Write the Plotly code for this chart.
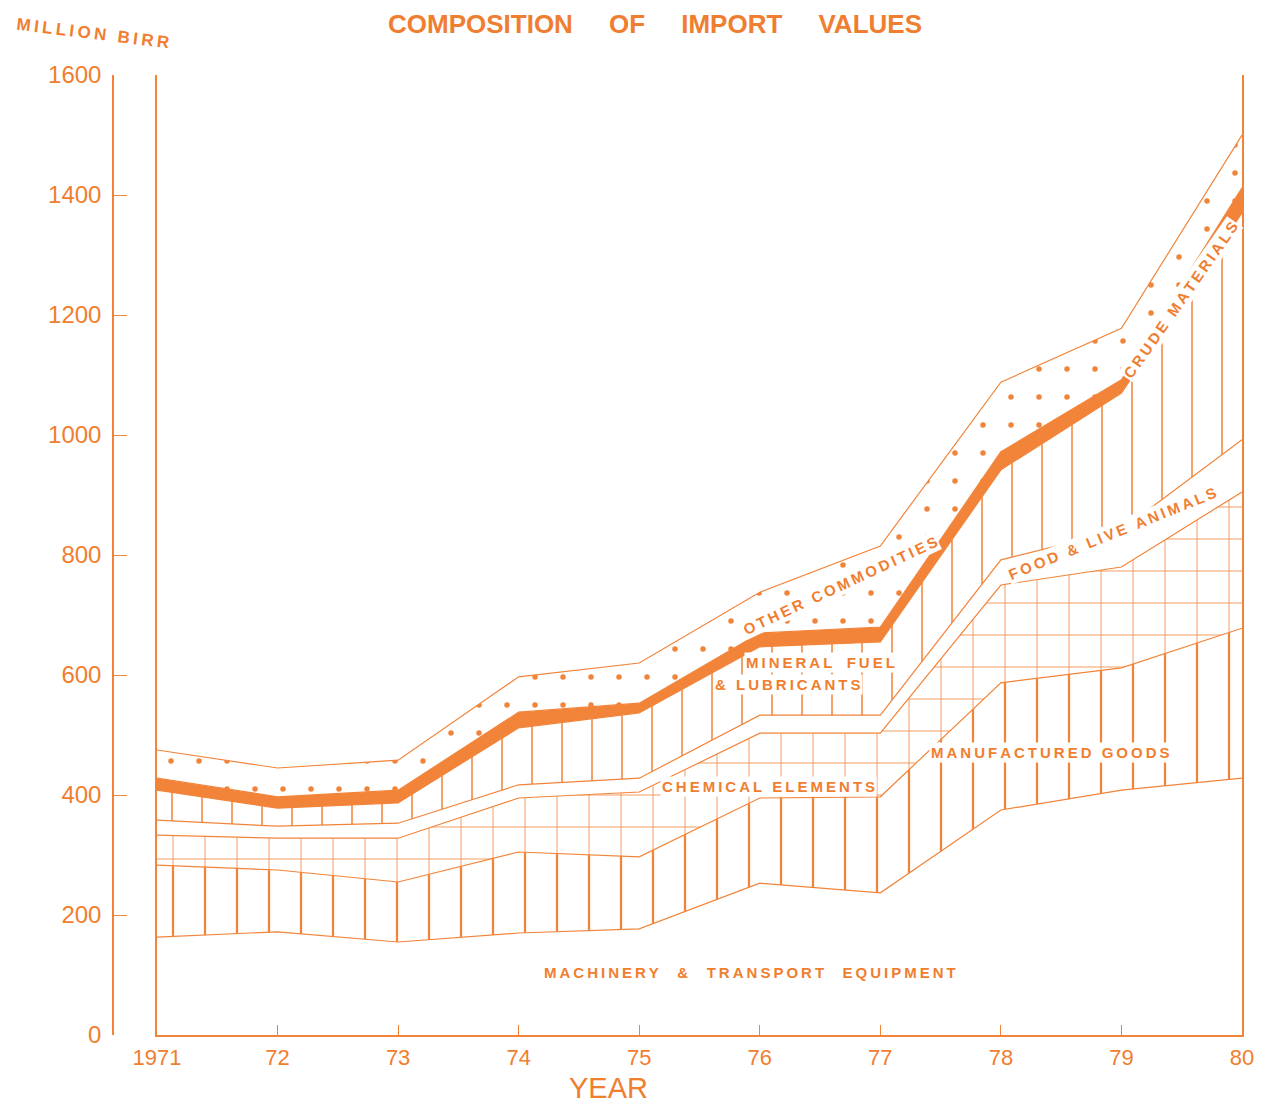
import plotly.graph_objects as go

# ---------------- data (million Birr) ----------------
years = [1971, 1972, 1973, 1974, 1975, 1976, 1977, 1978, 1979, 1980]
machinery = [163, 172, 155, 170, 177, 253, 237, 375, 408, 428]
manufactured = [120, 103, 100, 135, 120, 142, 160, 212, 204, 250]
chemical = [50, 53, 73, 90, 108, 108, 106, 163, 168, 227]
food = [25, 20, 25, 22, 23, 30, 30, 42, 62, 87]
mineral = [50, 30, 34, 95, 109, 114, 122, 150, 228, 378]
crude = [20, 19, 21, 26, 16, 23, 25, 30, 22, 42]
other = [47, 48, 50, 59, 67, 68, 135, 116, 86, 88]

x_tick_vals = years
x_tick_text = ["1971", "72", "73", "74", "75", "76", "77", "78", "79", "80"]
y_tick_vals = [0, 200, 400, 600, 800, 1000, 1200, 1400, 1600]
y_tick_text = ["0", "200", "400", "600", "800", "1000", "1200", "1400", "1600"]

# ---------------- styling ----------------
ORANGE = "#F2843A"
TEXT = "#F07E30"
FONT = "Liberation Sans, Arial, sans-serif"

OFF = 8                      # page body margin
W, H = 1273 - 2 * OFF, 1114 - 2 * OFF


def xp(px):
    return (px - OFF) / W


def yp(py):
    return 1 - (py - OFF) / H


def spaced(text, word_gap=2):
    """Letter-spaced text: thin spaces between letters, wider gaps between words."""
    words = text.split(" ")
    out = ["\u2009".join(w) for w in words]
    return ("\u2009" + "&nbsp;" * word_gap + "\u2009").join(out)


fig = go.Figure()

layers = [
    ("Machinery & transport equipment", machinery, dict(fillcolor="white")),
    ("Manufactured goods", manufactured,
     dict(fillpattern=dict(shape="|", size=32, solidity=0.07, fgcolor=ORANGE, bgcolor="white",
                           fgopacity=1))),
    ("Chemical elements", chemical,
     dict(fillpattern=dict(shape="+", size=32, solidity=0.05, fgcolor=ORANGE, bgcolor="white",
                           fgopacity=1))),
    ("Food & live animals", food, dict(fillcolor="white")),
    ("Mineral fuel & lubricants", mineral,
     dict(fillpattern=dict(shape="|", size=30, solidity=0.06, fgcolor=ORANGE, bgcolor="white",
                           fgopacity=0.85))),
    ("Crude materials", crude, dict(fillcolor=ORANGE)),
    ("Other commodities", other,
     dict(fillpattern=dict(shape=".", size=28, solidity=0.03, fgcolor=ORANGE, bgcolor="white",
                           fgopacity=1))),
]

for name, vals, extra in layers:
    fig.add_trace(go.Scatter(
        x=years, y=vals, name=name, mode="lines", stackgroup="imports",
        line=dict(color=ORANGE, width=1.2), showlegend=False,
        hovertemplate="%{x}: %{y}<extra>" + name + "</extra>",
        **extra,
    ))

# frame lines (left/right verticals) via an overlaying axis
fig.add_trace(go.Scatter(x=[years[0]], y=[0], yaxis="y2", mode="markers",
                         marker=dict(opacity=0), showlegend=False, hoverinfo="skip"))

fig.update_layout(
    width=W, height=H,
    margin=dict(l=0, r=0, t=0, b=0, autoexpand=False),
    paper_bgcolor="white", plot_bgcolor="white",
    xaxis=dict(
        domain=[xp(157), xp(1242)], range=[1971, 1980], automargin=False,
        tickvals=x_tick_vals, ticktext=x_tick_text,
        showgrid=False, zeroline=False, showline=True, linecolor=ORANGE, linewidth=1.5,
        ticks="inside", ticklen=10, tickcolor=ORANGE, tickwidth=1.2,
        ticklabelstandoff=2,
        tickfont=dict(family=FONT, size=22, color=TEXT),
    ),
    yaxis=dict(
        domain=[yp(1035), yp(75)], range=[0, 1600], automargin=False,
        anchor="free", position=xp(113),
        tickvals=y_tick_vals, ticktext=y_tick_text,
        showgrid=False, zeroline=False, showline=True, linecolor=ORANGE, linewidth=1.5,
        ticks="inside", ticklen=13, tickcolor=ORANGE, tickwidth=1.2,
        ticklabelstandoff=6,
        tickfont=dict(family=FONT, size=24, color=TEXT),
    ),
    yaxis2=dict(
        overlaying="y", matches="y", anchor="x", side="left", automargin=False,
        showline=True, mirror=True, linecolor=ORANGE, linewidth=1.5,
        showticklabels=False, ticks="", showgrid=False, zeroline=False,
    ),
)

# ---------------- text ----------------
PXY = (1242 - 157) / 9.0


def dx(px):
    return 1971 + (px - 157) / PXY


def dy(py):
    return (1035 - py) * 1600 / 960.0


def label(text, px, py, size=15, angle=0, gap=2):
    fig.add_annotation(x=dx(px), y=dy(py), xref="x", yref="y",
                       text="<b>" + spaced(text, gap) + "</b>",
                       showarrow=False, textangle=angle, xanchor="center", yanchor="middle",
                       bgcolor="white", borderpad=1,
                       font=dict(family=FONT, size=size, color=TEXT))


label("MACHINERY & TRANSPORT EQUIPMENT", 750, 972, 15, 0, 3)
label("MANUFACTURED GOODS", 1050, 752, 15, 0, 1)
label("CHEMICAL ELEMENTS", 768, 786, 15, 0, 1)
label("MINERAL FUEL", 820, 662, 15, 0, 2)
label("& LUBRICANTS", 788, 684, 15, 0, 1)
label("FOOD & LIVE ANIMALS", 1112, 533, 15, -22, 1)
label("OTHER COMMODITIES", 840, 585, 15, -25, 1)
label("CRUDE MATERIALS", 1180, 300, 15, -55, 1)

fig.add_annotation(x=xp(655), y=yp(24), xref="paper", yref="paper", showarrow=False,
                   xanchor="center", yanchor="middle",
                   text="<b>COMPOSITION &nbsp;&nbsp;&nbsp; OF &nbsp;&nbsp;&nbsp; IMPORT &nbsp;&nbsp;&nbsp; VALUES</b>",
                   font=dict(family=FONT, size=26, color=TEXT))
fig.add_annotation(x=xp(93), y=yp(34), xref="paper", yref="paper", showarrow=False,
                   xanchor="center", yanchor="middle", borderpad=0,
                   text="<b>" + spaced("MILLION BIRR", 1) + "</b>", textangle=7,
                   font=dict(family=FONT, size=17, color=TEXT))
fig.add_annotation(x=xp(608), y=0, xref="paper", yref="paper", showarrow=False,
                   xanchor="center", yanchor="bottom", yshift=1, borderpad=0,
                   text="YEAR", font=dict(family=FONT, size=29, color=TEXT))

fig.write_html("out.html")
